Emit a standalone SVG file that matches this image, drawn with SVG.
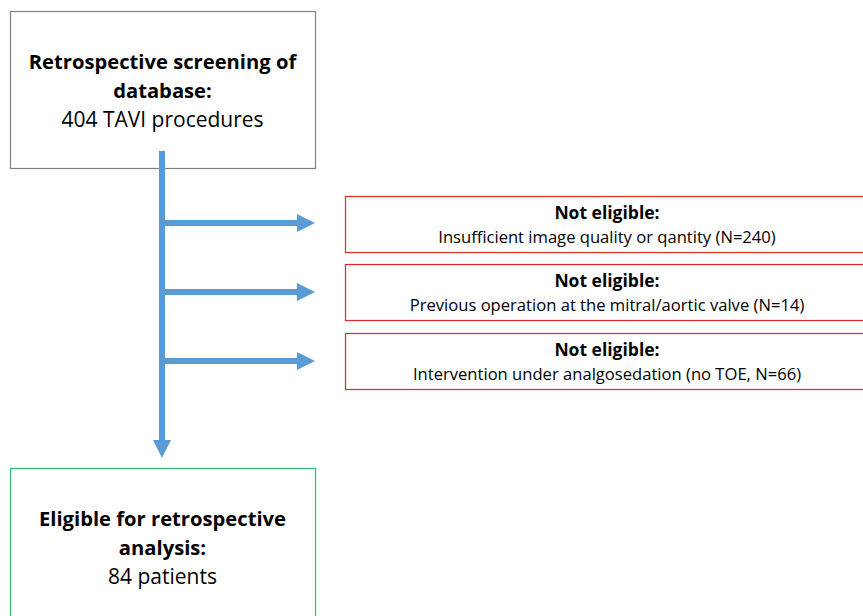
<svg xmlns="http://www.w3.org/2000/svg" width="863" height="616" viewBox="0 0 863 616">
<style>
.box{fill:#fff;stroke-width:1.2}
.gray{stroke:#7f7f7f}
.red{stroke:#e8262b}
.green{stroke:#2fbf6a}
text{font-family:"Open Sans","Liberation Sans",sans-serif;fill:#000;text-anchor:middle}
.bigb{font-size:20.2px;font-weight:bold}
.big{font-size:21px}
.smb{font-size:17.5px;font-weight:bold}
.sm{font-size:16.6px}
.conn{stroke:#5b9bd5;stroke-width:6;fill:none}
</style>
<defs>
<marker id="ah" markerUnits="userSpaceOnUse" markerWidth="20" markerHeight="20" refX="0" refY="10" orient="auto" viewBox="0 0 20 20">
<path d="M0,1 L18,10 L0,19 Z" fill="#5b9bd5"/>
</marker>
</defs>
<rect width="863" height="616" fill="#fff"/>
<g id="start">
<rect class="box gray" x="10.5" y="11.5" width="305" height="157"/>
<text class="bigb" x="162.5" y="69">Retrospective screening of</text>
<text class="bigb" x="162.5" y="98">database:</text>
<text class="big" x="162.5" y="127">404 TAVI procedures</text>
</g>
<g id="excl1">
<rect class="box red" x="345.5" y="196.5" width="524" height="56"/>
<text class="smb" x="607" y="219">Not eligible:</text>
<text class="sm" x="607" y="243">Insufficient image quality or qantity (N=240)</text>
</g>
<g id="excl2">
<rect class="box red" x="345.5" y="264.5" width="524" height="56"/>
<text class="smb" x="607" y="287">Not eligible:</text>
<text class="sm" x="607" y="311">Previous operation at the mitral/aortic valve (N=14)</text>
</g>
<g id="excl3">
<rect class="box red" x="345.5" y="333.5" width="524" height="56"/>
<text class="smb" x="607" y="356">Not eligible:</text>
<text class="sm" x="607" y="380">Intervention under analgosedation (no TOE, N=66)</text>
</g>
<g id="eligible">
<rect class="box green" x="10.5" y="468.5" width="305" height="160"/>
<text class="bigb" x="162.5" y="526">Eligible for retrospective</text>
<text class="bigb" x="162.5" y="555">analysis:</text>
<text class="big" x="162.5" y="584">84 patients</text>
</g>
<g id="connectors">
<path class="conn" d="M162,151 V440" marker-end="url(#ah)"/>
<path class="conn" d="M162,223 H297" marker-end="url(#ah)"/>
<path class="conn" d="M162,292 H297" marker-end="url(#ah)"/>
<path class="conn" d="M162,361 H297" marker-end="url(#ah)"/>
</g>
</svg>
